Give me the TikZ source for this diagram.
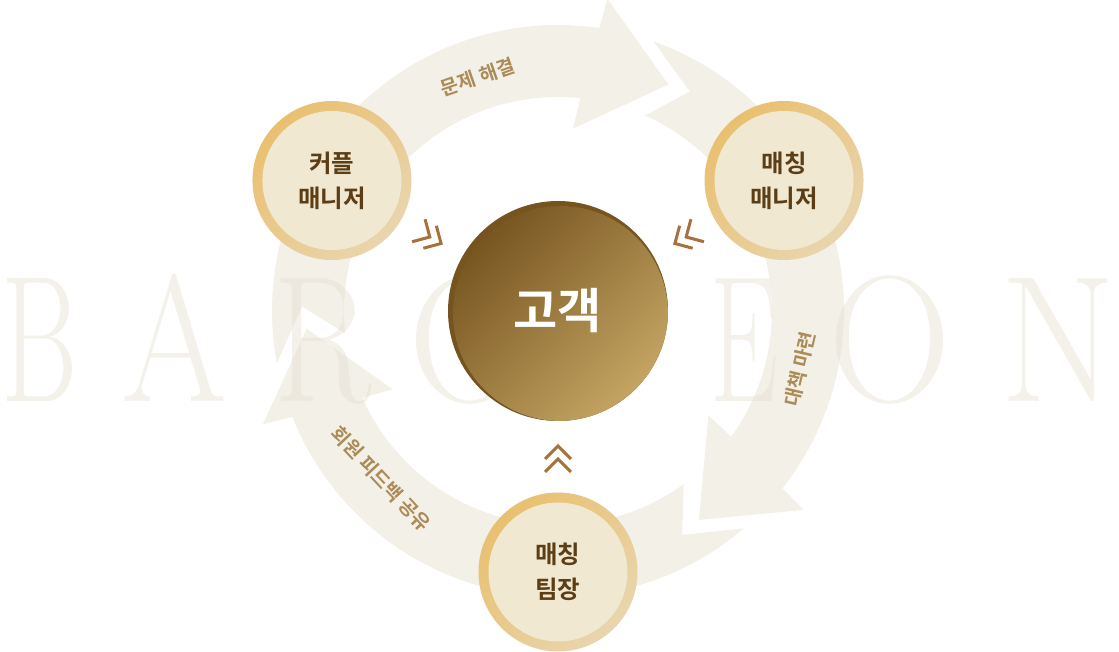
\documentclass[tikz,border=0pt]{standalone}
\usepackage{fontspec}
\newfontfamily\kr{Noto Sans CJK KR}[BoldFont={Noto Sans CJK KR Bold}]
\definecolor{bandc}{HTML}{F3F0E8}
\definecolor{ghostc}{HTML}{E6E0D2}
\definecolor{ringa}{HTML}{E9C070}
\definecolor{ringb}{HTML}{E9D5AE}
\definecolor{cream}{HTML}{F1E8D1}
\definecolor{namec}{HTML}{5B3E16}
\definecolor{cdark}{HTML}{76541F}
\definecolor{cmid}{HTML}{9C7A40}
\definecolor{clight}{HTML}{C4A463}
\definecolor{chevc}{HTML}{A8703A}
\definecolor{labelc}{HTML}{AB8B57}
\tikzset{
  band/.style={fill=bandc},
  ghost/.style={text=ghostc, opacity=0.45, anchor=base, inner sep=0pt,
    font=\fontsize{180}{180}\selectfont},
  member/.style={circle, minimum size=159pt, inner sep=0pt, align=center,
    top color=ringa, bottom color=ringb, shading angle=45,
    text=namec, font=\kr\bfseries\fontsize{24.5}{35}\selectfont,
    path picture={\fill[cream] (path picture bounding box.center) circle (69.5);}},
  client/.style={circle, minimum size=220pt, inner sep=0pt, fill=cdark,
    text=white, font=\kr\bfseries\fontsize{48}{48}\selectfont,
    path picture={\shade[top color=cdark, middle color=cmid, bottom color=clight, shading angle=45]
      ([shift={(2.5,-2.5)}]path picture bounding box.center) circle (107.5);}},
  chev/.style={draw=chevc, line width=3pt},
  arclabel/.style={text=labelc, font=\kr\bfseries\fontsize{19.5}{19.5}\selectfont},
}
\begin{document}
\begin{tikzpicture}[x=1pt, y=1pt]
\useasboundingbox (-558,-341) rectangle (561,311);
% ring arrows, tips 120 deg apart
\foreach \t in {64,-56,184}
  \fill[band] (\t+126.5:286) -- (\t+115:256) -- (\t+122:214)
    arc[start angle=\t+122, end angle=\t+20, radius=214]
    -- (\t+21.3:183) -- (\t:252) -- (\t+17:316) -- (\t+17.7:286)
    arc[start angle=\t+17.7, end angle=\t+126.5, radius=286] -- cycle;
% background letters
\foreach \ch/\x/\s [count=\i] in {B/40/.65, A/175/.85, R/322/.8, O/470/.95,
    Y/605/.85, E/744/.6, O/890/.95, N/1058/.93}
  \node[ghost, xscale=\s] (bg\i) at (\x-558,-91) {\ch};
% labels on the ring
\node[arclabel, rotate=19] (solve) at (109:247) {문제 해결};
\node[arclabel, rotate=77] (plan) at (-13.5:249) {대책 마련};
\node[arclabel, rotate=-47] (share) at (223.5:244) {회원 피드백 공유};
% people
\node[member] (couple) at (150:261) {커플\\매니저};
\node[member] (matcher) at (30:261) {매칭\\매니저};
\node[member] (leader) at (270:261) {매칭\\팀장};
\node[client] (client) at (0,0) {고객};
% chevrons toward the client
\foreach \a in {150,30,270}
  \draw[chev, shift={(\a:148)}, rotate=\a+180]
    (0,13) -- (13,0) -- (0,-13) (-13,13) -- (0,0) -- (-13,-13);
\end{tikzpicture}
\end{document}
